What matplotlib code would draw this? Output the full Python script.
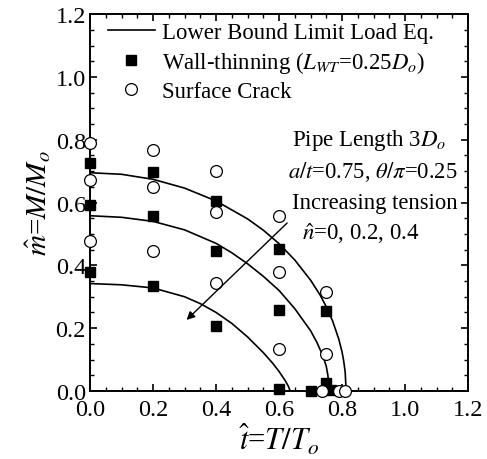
import matplotlib
matplotlib.use("Agg")
import matplotlib.pyplot as plt
from matplotlib.ticker import MultipleLocator

plt.rcParams['font.family'] = ['Liberation Serif', 'DejaVu Serif']
plt.rcParams['mathtext.fontset'] = 'stix'

# limit load curves (n = 0, 0.2, 0.4)
t_top = [0.0, 0.1, 0.2, 0.3, 0.4, 0.5, 0.55, 0.6, 0.65, 0.7, 0.73, 0.75, 0.77, 0.79, 0.80, 0.805, 0.81, 0.813]
m_top = [0.695, 0.690, 0.674, 0.646, 0.605, 0.548, 0.512, 0.469, 0.417, 0.353, 0.306, 0.268, 0.223, 0.164, 0.124, 0.097, 0.060, 0.0]

t_mid = [0.0, 0.1, 0.2, 0.3, 0.4, 0.45, 0.5, 0.55, 0.6, 0.65, 0.7, 0.72, 0.74, 0.75, 0.755, 0.76]
m_mid = [0.558, 0.553, 0.540, 0.513, 0.470, 0.440, 0.405, 0.365, 0.320, 0.262, 0.192, 0.155, 0.110, 0.078, 0.050, 0.0]

t_bot = [0.0, 0.1, 0.2, 0.3, 0.35, 0.4, 0.45, 0.5, 0.55, 0.58, 0.6, 0.62, 0.63, 0.635]
m_bot = [0.342, 0.338, 0.328, 0.300, 0.278, 0.250, 0.215, 0.172, 0.122, 0.088, 0.062, 0.032, 0.014, 0.0]

# wall-thinning results
wt_t = [0.0, 0.0, 0.0, 0.2, 0.2, 0.2, 0.4, 0.4, 0.4, 0.6, 0.6, 0.6, 0.7, 0.75, 0.75, 0.765]
wt_m = [0.725, 0.593, 0.380, 0.696, 0.556, 0.333, 0.606, 0.445, 0.208, 0.452, 0.258, 0.005, 0.0, 0.254, 0.025, 0.003]

# surface crack results
sc_t = [0.0, 0.0, 0.0, 0.2, 0.2, 0.2, 0.4, 0.4, 0.4, 0.6, 0.6, 0.6, 0.75, 0.75, 0.735, 0.79, 0.81]
sc_m = [0.789, 0.673, 0.477, 0.767, 0.651, 0.445, 0.702, 0.569, 0.343, 0.556, 0.378, 0.132, 0.314, 0.118, 0.0, 0.0, 0.0]

fig = plt.figure(figsize=(4.87, 4.6), dpi=100)
ax = fig.add_axes([0.185, 0.148, 0.776, 0.819])

ax.plot(t_top, m_top, color='black', linewidth=1.2, label='Lower Bound Limit Load Eq.')
ax.plot(t_mid, m_mid, color='black', linewidth=1.2)
ax.plot(t_bot, m_bot, color='black', linewidth=1.2)
ax.plot(wt_t, wt_m, 's', color='black', markersize=7.8, linestyle='none',
        label='Wall-thinning ($L_{WT}$=0.25$D_o$)', clip_on=False, zorder=3)
ax.plot(sc_t, sc_m, 'o', markerfacecolor='white', markeredgecolor='black', markeredgewidth=0.9,
        markersize=8.5, linestyle='none', label='Surface Crack', clip_on=False, zorder=3)

ax.annotate('', xy=(0.30, 0.22), xytext=(0.632, 0.541),
            arrowprops=dict(arrowstyle='-|>', color='black', lw=1.0, mutation_scale=12))

ax.text(0.641, 0.80, 'Pipe Length 3$D_o$', fontsize=16.5, va='center')
ax.text(0.627, 0.70, '$a/t$=0.75, $\\theta/\\pi$=0.25', fontsize=16.3, va='center')
ax.text(0.641, 0.60, 'Increasing tension', fontsize=16.3, va='center')
ax.text(0.672, 0.505, '$\\hat{n}$=0, 0.2, 0.4', fontsize=16.5, va='center')

ax.set_xlim(0, 1.2)
ax.set_ylim(0, 1.2)
ax.xaxis.set_major_locator(MultipleLocator(0.2))
ax.yaxis.set_major_locator(MultipleLocator(0.2))
ax.xaxis.set_minor_locator(MultipleLocator(0.05))
ax.yaxis.set_minor_locator(MultipleLocator(0.05))
ax.xaxis.set_major_formatter(plt.FormatStrFormatter('%.1f'))
ax.yaxis.set_major_formatter(plt.FormatStrFormatter('%.1f'))
ax.tick_params(which='both', direction='in', top=True, right=True, labelsize=17.5)
ax.tick_params(axis='x', pad=6)
ax.tick_params(axis='y', pad=3)
ax.tick_params(which='major', length=5, width=1.2)
ax.tick_params(which='minor', length=3, width=1.0)
for s in ax.spines.values():
    s.set_linewidth(1.4)

ax.set_xlabel('$\\hat{t}$=$T/T_o$', fontsize=22, labelpad=1)
ax.set_ylabel('$\\hat{m}$=$M/M_o$', fontsize=21, labelpad=2)

ax.legend(loc='upper left', bbox_to_anchor=(0.025, 1.0), frameon=False, fontsize=16.4,
          handlelength=2.1, handletextpad=0.3, labelspacing=0.25, borderaxespad=0.05,
          borderpad=0.3)

fig.savefig('out.png', dpi=100)
